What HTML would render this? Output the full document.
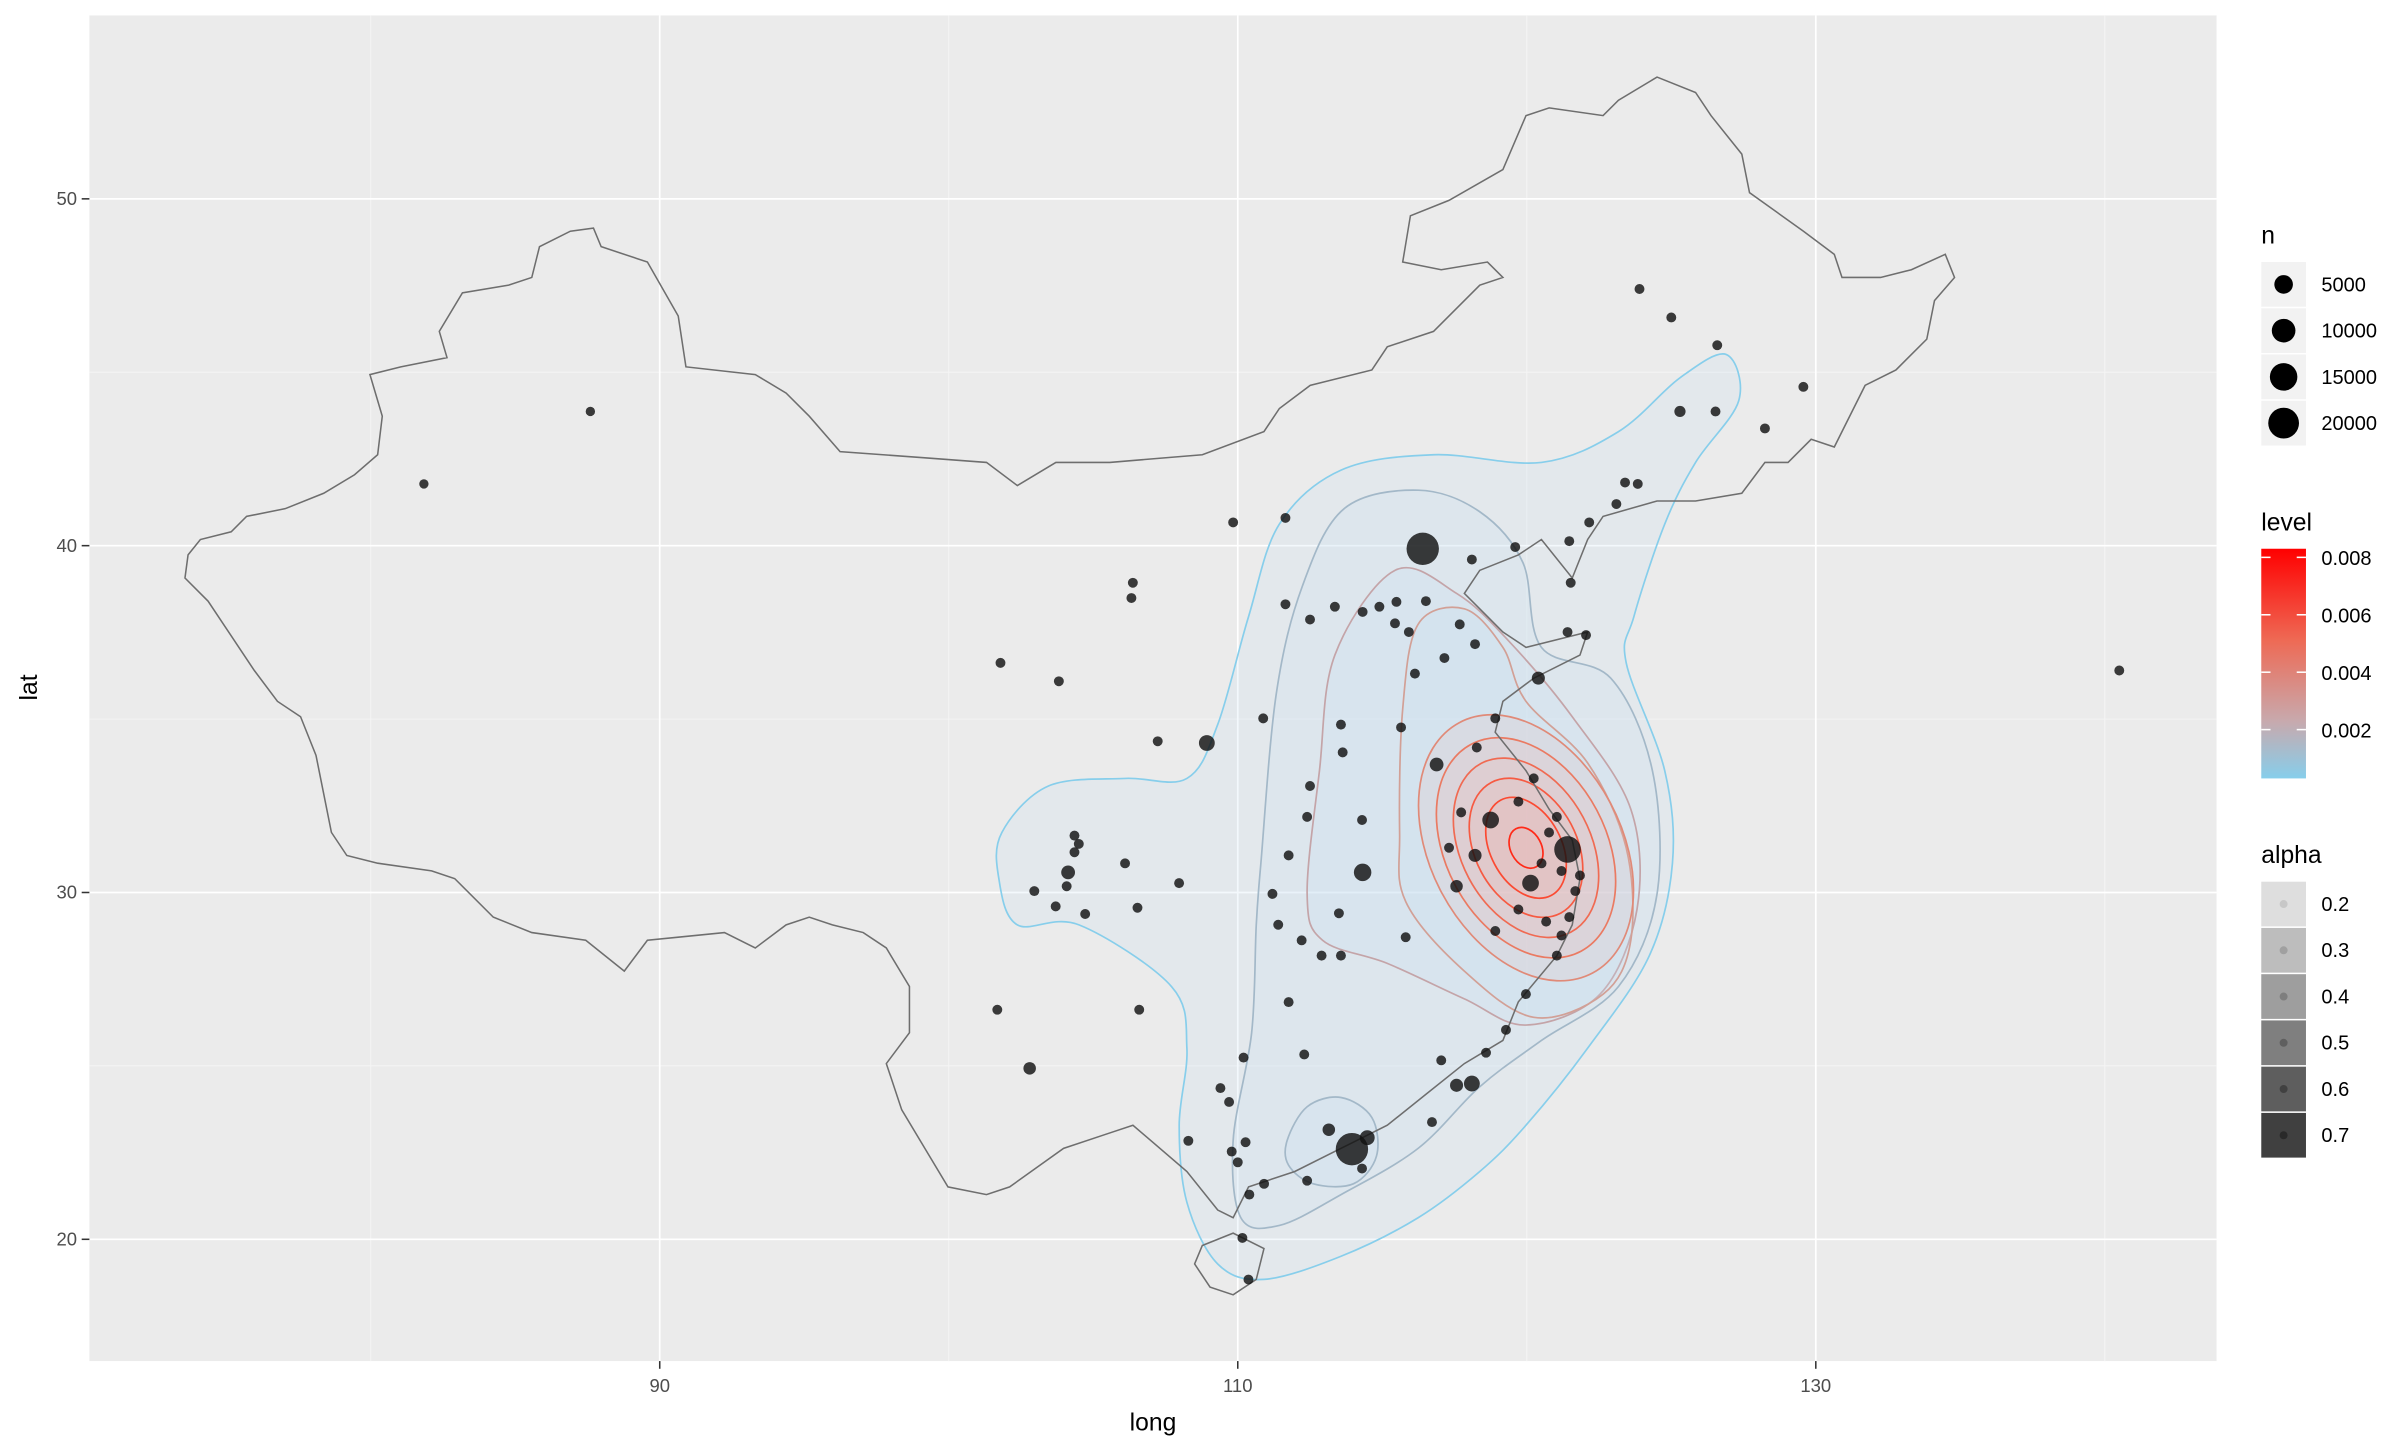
<!DOCTYPE html>
<html><head><meta charset="utf-8"><style>
html,body{margin:0;padding:0;background:#fff}
svg{display:block;font-family:"Liberation Sans",sans-serif}
</style></head><body>
<svg id="chart" width="2400" height="1440" viewBox="0 0 1557 934.2" xmlns="http://www.w3.org/2000/svg">
<rect x="58" y="10" width="1380" height="873" fill="#ebebeb"/>
<g id="grid"></g>
<g id="contours"></g>
<path id="outline" fill="none" stroke="#6e6e6e" stroke-width="1"/>
<path id="hainan" fill="none" stroke="#6e6e6e" stroke-width="1"/>
<g id="points"></g>
<g id="axes"></g>
<text x="748" y="928" font-size="16" text-anchor="middle" fill="#000">long</text>
<text x="24" y="446" font-size="16" text-anchor="middle" fill="#000" transform="rotate(-90 24 446)">lat</text>

<g>
<text x="1467" y="158" font-size="16">n</text>
<g id="legN"></g>
</g>
<g>
<defs><linearGradient id="lg" x1="0" y1="0" x2="0" y2="1">
<stop offset="0" stop-color="#ff0000"/><stop offset="0.4" stop-color="#ee6a55"/><stop offset="0.75" stop-color="#c8a9ad"/><stop offset="1" stop-color="#87ceeb"/></linearGradient></defs>
<text x="1467" y="344" font-size="16">level</text>
<rect x="1467" y="356" width="29" height="149" fill="url(#lg)"/>
<g id="legL"></g>
</g>
<g>
<text x="1467" y="560" font-size="16">alpha</text>
<g id="legA"></g>
</g>
</svg>
<script>
const lonVals=[81.84,87.6,116.4,113.95,121.41,118.75,120.13,118.1,116.88,114.32,108.93,104.13,102.8,106.37,106.32,101.79,103.81,107.23,109.84,111.65,111.65,112.5,110.88,113.36,114.32,114.9,115.49,115.44,115.92,116.51,118.1,119.6,121.52,121.47,122.16,123.4,123.84,123.1,125.3,126.53,126.59,125.0,123.9,129.57,128.24,140.5,121.41,122.05,120.4,118.21,117.68,116.13,117.15,115.65,113.57,113.63,112.5,112.4,111.76,111.2,111.4,112.21,112.9,113.57,115.81,113.5,114.3,111.76,112.3,110.2,109.4,109.7,108.29,110.27,110.0,110.4,110.91,112.4,113.15,114.48,114.3,116.72,117.04,117.57,118.59,119.28,119.97,121.04,121.2,121.47,121.68,120.67,119.71,118.91,117.57,118.21,117.31,117.73,118.27,118.91,119.71,120.24,120.77,120.51,121.04,121.84,121.2,104.35,104.35,104.5,104.08,102.96,103.7,104.72,106.1,106.53,107.97,106.59,101.68,109.79,110.16,110.37];
const latVals=[41.78,43.87,39.91,22.6,31.24,32.09,30.27,24.49,33.69,30.58,34.31,30.58,24.93,38.93,38.49,36.62,36.09,34.36,40.67,40.8,38.31,37.87,35.02,38.24,38.09,38.24,38.38,37.76,37.51,38.4,39.6,39.96,38.93,40.13,40.67,41.82,41.78,41.2,43.87,43.87,45.78,46.58,47.4,44.58,43.38,36.4,37.51,37.42,36.18,37.16,37.73,36.31,36.76,34.76,34.84,34.04,33.07,32.18,31.07,29.96,29.07,28.62,28.18,28.18,28.71,29.4,32.09,26.84,25.33,25.24,24.36,23.96,22.84,22.8,22.22,21.29,21.6,21.69,23.16,22.93,22.04,23.38,25.16,24.44,25.38,26.04,27.07,28.18,28.76,29.29,30.04,29.16,29.51,28.89,30.18,31.07,31.29,32.31,34.18,35.02,32.62,33.29,31.73,30.84,32.18,30.49,30.62,31.64,31.16,31.4,30.18,30.04,29.6,29.38,30.84,29.56,30.27,26.62,26.62,22.53,20.04,18.84];
const nVals=[200,200,20000,20000,12000,3000,3000,2500,1500,3500,2500,1500,1000,300,300,300,300,300,300,300,300,300,300,300,300,300,300,300,300,300,300,300,300,300,300,300,300,300,600,300,300,300,300,300,300,300,300,300,1200,300,300,300,300,300,300,300,300,300,300,300,300,300,300,300,300,300,300,300,300,300,300,300,300,300,300,300,300,300,1000,2000,300,300,300,1200,300,300,300,300,300,300,300,300,300,300,1000,1200,300,300,300,300,300,300,300,300,300,300,300,300,300,300,300,300,300,300,300,300,300,300,300,300,300,300];
const xTicks=[90,110,130], xMinor=[80,100,120,140];
const yTicks=[20,30,40,50], yMinor=[25,35,45];
const sizeLegend=[5000,10000,15000,20000];
const levelTicks=[0.002,0.004,0.006,0.008];
const alphaLegend=[0.2,0.3,0.4,0.5,0.6,0.7];

const NS='http://www.w3.org/2000/svg';
const X=lon=>428+(lon-90)*18.75;
const Y=lat=>129-(lat-50)*22.5;
const R=n=>2.2+8.3*Math.sqrt(n/20000);
function mk(t,a,p){const e=document.createElementNS(NS,t);for(const k in a)e.setAttribute(k,a[k]);p.appendChild(e);return e;}

const grid=document.getElementById('grid');
xMinor.forEach(v=>{const l=mk('line',{x1:X(v),x2:X(v),y1:10,y2:883,stroke:'#f5f5f5','stroke-width':0.6},grid);

});
yMinor.forEach(v=>{const l=mk('line',{x1:58,x2:1438,y1:Y(v),y2:Y(v),stroke:'#f5f5f5','stroke-width':0.6},grid);

});
xTicks.forEach(v=>{const l=mk('line',{x1:X(v),x2:X(v),y1:10,y2:883,stroke:'#fff','stroke-width':1.1},grid);

});
yTicks.forEach(v=>{const l=mk('line',{x1:58,x2:1438,y1:Y(v),y2:Y(v),stroke:'#fff','stroke-width':1.1},grid);

});

const axes=document.getElementById('axes');
xTicks.forEach(v=>{const l=mk('line',{x1:X(v),x2:X(v),y1:883,y2:888,stroke:'#333'},axes);


const t=mk('text',{x:X(v),y:903,'font-size':12,'text-anchor':'middle',fill:'#4d4d4d'},axes);t.textContent=v;

});
yTicks.forEach(v=>{const l=mk('line',{x1:53,x2:58,y1:Y(v),y2:Y(v),stroke:'#333'},axes);


const t=mk('text',{x:50,y:Y(v)+4,'font-size':12,'text-anchor':'end',fill:'#4d4d4d'},axes);t.textContent=v;

});

// outline (display-unit trace)
const ol=[[122,360],[130,350],[150,345],[160,335],[185,330],[210,320],[230,308],[245,295],[248,270],[240,243],[260,238],[290,232],[285,215],[300,190],[330,185],[345,180],[350,160],[370,150],[385,148],[390,160],[420,170],[440,205],[445,238],[490,243],[510,255],[525,270],[545,293],[600,297],[640,300],[660,315],[685,300],[720,300],[780,295],[820,280],[830,265],[850,250],[890,240],[900,225],[930,215],[960,185],[975,180],[965,170],[935,175],[910,170],[915,140],[940,130],[975,110],[990,75],[1005,70],[1040,75],[1050,65],[1075,50],[1100,60],[1110,75],[1130,100],[1135,125],[1170,150],[1190,165],[1195,180],[1220,180],[1240,175],[1262,165],[1268,180],[1255,195],[1250,220],[1230,240],[1210,250],[1190,290],[1175,285],[1160,300],[1145,300],[1130,320],[1100,325],[1075,325],[1040,335],[1030,350],[1020,375],[1000,350],[985,360],[960,370],[950,385],[965,400],[975,410],[990,420],[1030,410],[1025,425],[995,440],[975,455],[970,475],[990,500],[1005,525],[1020,545],[1025,570],[1020,600],[1010,620],[985,650],[975,675],[950,690],[925,710],[900,730],[870,745],[840,760],[810,770],[800,790],[790,785],[770,760],[735,730],[720,735],[690,745],[655,770],[640,775],[615,770],[600,745],[585,720],[575,690],[590,670],[590,640],[575,615],[560,605],[540,600],[525,595],[510,600],[490,615],[470,605],[440,608],[420,610],[405,630],[380,610],[345,605],[320,595],[295,570],[280,565],[245,560],[225,555],[215,540],[210,515],[205,490],[195,465],[180,455],[165,435],[155,420],[145,405],[135,390],[120,375]];
document.getElementById('outline').setAttribute('d','M'+ol.map(p=>p.join(',')).join('L')+'Z');
const hn=[[780,808],[800,800],[820,810],[815,830],[800,840],[785,835],[775,820]];
document.getElementById('hainan').setAttribute('d','M'+hn.map(p=>p.join(',')).join('L')+'Z');

// contours
const cg=document.getElementById('contours');
function smooth(pts){let d='';const n=pts.length;for(let i=0;i<n;i++){const p0=pts[(i-1+n)%n],p1=pts[i],p2=pts[(i+1)%n],p3=pts[(i+2)%n];
if(i===0)d+='M'+p1[0]+','+p1[1];
const c1=[p1[0]+(p2[0]-p0[0])/6,p1[1]+(p2[1]-p0[1])/6],c2=[p2[0]-(p3[0]-p1[0])/6,p2[1]-(p3[1]-p1[1])/6];
d+='C'+c1.join(',')+' '+c2.join(',')+' '+p2.join(',');}return d+'Z';}
const polys=[
 {c:'#87ceeb',p:[[650,540],[680,510],[730,505],[770,505],[790,470],[810,400],[830,340],[870,305],[930,295],[1000,300],[1050,280],[1090,245],[1120,230],[1128,260],[1100,300],[1080,340],[1060,400],[1055,430],[1080,500],[1085,560],[1070,620],[1030,680],[990,730],[960,760],[920,790],[870,815],[820,830],[790,820],[770,780],[765,730],[770,680],[760,640],[700,600],[660,600],[648,570]]},
 {c:'#a3b8c8',p:[[818,560],[828,450],[845,380],[872,330],[920,318],[960,332],[988,365],[1000,420],[1045,440],[1072,500],[1075,580],[1050,640],[1000,675],[960,705],[920,745],[870,775],[830,795],[805,790],[800,740],[812,670],[815,600]]},
 {c:'#c4a4a8',p:[[848,580],[856,500],[866,425],[905,370],[945,385],[978,415],[1020,465],[1058,525],[1062,590],[1038,645],[990,665],[950,648],[900,625],[858,610]]},
 {c:'#a3b8c8',p:[[835,740],[848,718],[870,712],[890,725],[893,750],[878,768],[852,768],[836,756]]},
 {c:'#d2a096',p:[[908,540],[910,460],[920,405],[950,395],[975,420],[990,455],[1030,495],[1055,550],[1058,610],[1040,645],[995,660],[950,630],[912,585]]},
];
polys.forEach(o=>{const e=mk('path',{d:smooth(o.p),fill:'rgba(200,225,240,0.22)',stroke:o.c,'stroke-width':1.1},cg);

});
const ell=[[62,92,'#e08a78'],[52,76,'#ea7a62'],[42,62,'#f06a52'],[33,48,'#f65a42'],[23,35,'#fb4a32'],[10,14,'#ff2a18']];
ell.forEach(o=>{const e=mk('ellipse',{cx:990,cy:550,rx:o[0],ry:o[1],transform:'rotate(-28 990 550)',fill:'rgba(240,170,160,0.14)',stroke:o[2],'stroke-width':1.1},cg);

});

// points
const pg=document.getElementById('points');
lonVals.forEach((lo,i)=>{const c=mk('circle',{cx:X(lo),cy:Y(latVals[i]),r:R(nVals[i]),fill:'#111',opacity:0.82},pg);

});

// legends
const ln=document.getElementById('legN');
sizeLegend.forEach((v,i)=>{const y=170+i*30;
const b=mk('rect',{x:1467,y:y,width:29,height:29,fill:'#f2f2f2'},ln);


const c=mk('circle',{cx:1481.5,cy:y+14.5,r:R(v)*0.95,fill:'#000'},ln);


const t=mk('text',{x:1506,y:y+19,'font-size':13},ln);t.textContent=v;

});
const ll=document.getElementById('legL');
levelTicks.forEach(v=>{const y=505-(v-0.0003)/(0.0083-0.0003)*149;
const a=mk('line',{x1:1467,x2:1473,y1:y,y2:y,stroke:'#fff'},ll);


const b=mk('line',{x1:1490,x2:1496,y1:y,y2:y,stroke:'#fff'},ll);


const t=mk('text',{x:1506,y:y+5,'font-size':13},ll);t.textContent=v.toFixed(3);

});
const la=document.getElementById('legA');
const aCols=['#dedede','#bdbdbd','#9e9e9e','#7f7f7f','#5e5e5e','#404040'];
alphaLegend.forEach((v,i)=>{const y=572+i*30;
const b=mk('rect',{x:1467,y:y,width:29,height:29,fill:aCols[i]},la);


const c=mk('circle',{cx:1481.5,cy:y+14.5,r:2.6,fill:'#000',opacity:v*0.5},la);


const t=mk('text',{x:1506,y:y+19,'font-size':13},la);t.textContent=v;

});
</script>
</body></html>
